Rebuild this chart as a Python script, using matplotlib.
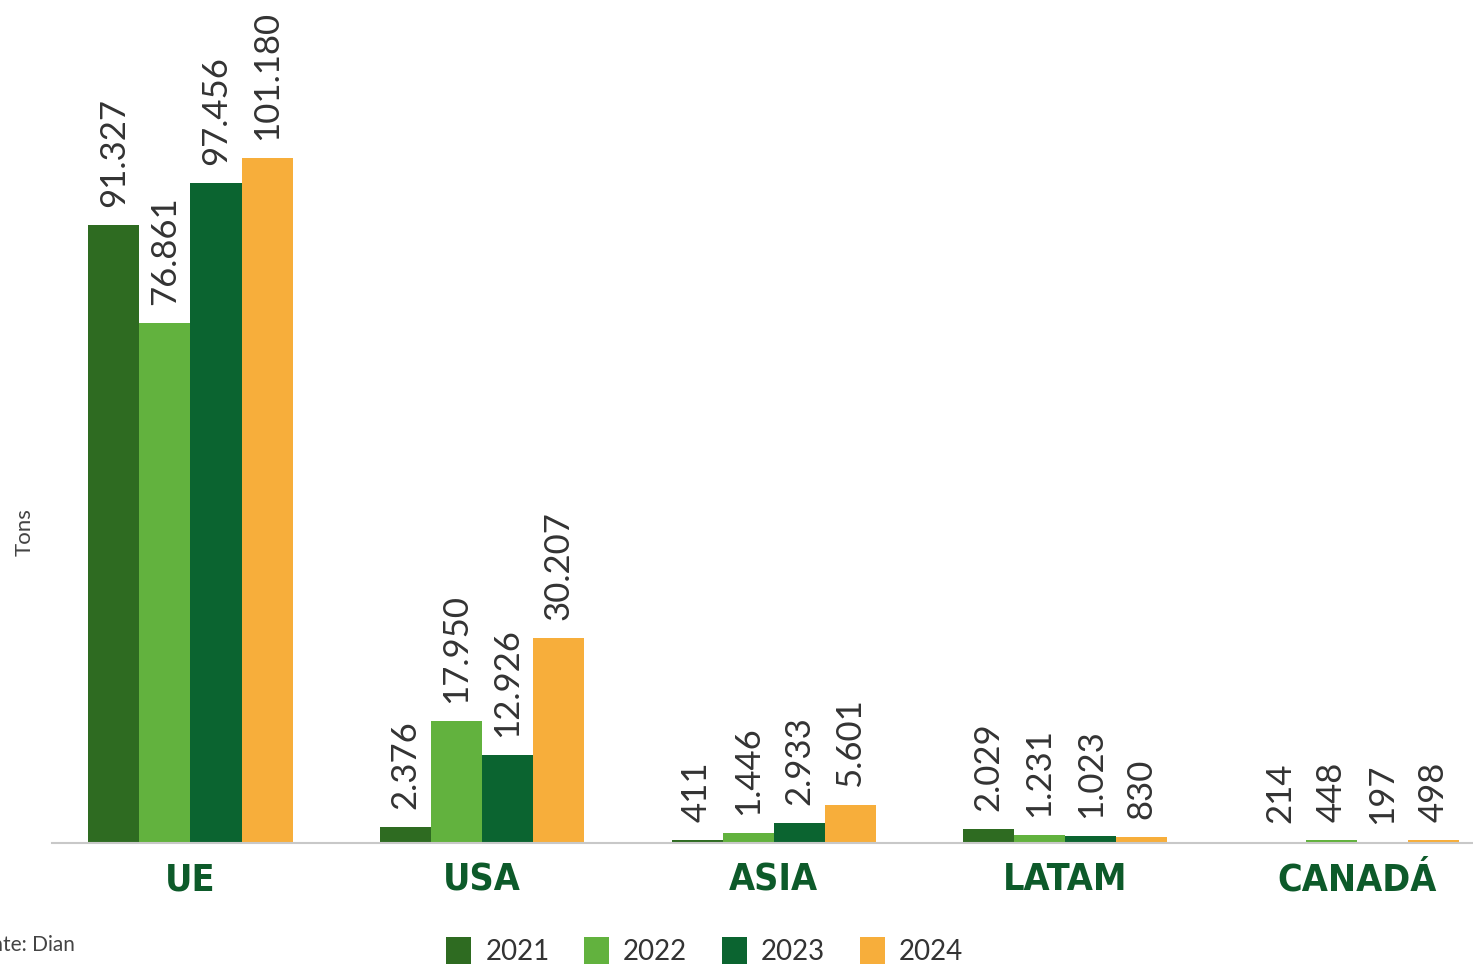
import numpy as np
import matplotlib

matplotlib.use('Agg')
import matplotlib.pyplot as plt
from matplotlib.patches import Patch

# Datos (toneladas exportadas por destino)
regions = ['UE', 'USA', 'ASIA', 'LATAM', 'CANADÁ']
years = ['2021', '2022', '2023', '2024']
v2021 = [91327, 2376, 411, 2029, 214]
v2022 = [76861, 17950, 1446, 1231, 448]
v2023 = [97456, 12926, 2933, 1023, 197]
v2024 = [101180, 30207, 5601, 830, 498]

colors = ['#2e6b21', '#62b23e', '#0b6430', '#f7ae3b']
label_green = '#0d5a2a'

plt.rcParams['font.family'] = ['Lato', 'DejaVu Sans']

W, H = 1473, 968
fig = plt.figure(figsize=(W / 100, H / 100), dpi=100)
ax = fig.add_axes([52 / W, 1 - 843 / H, 1 - 52 / W, 843 / H])

x = np.arange(len(regions))
bw = 0.175
series = [v2021, v2022, v2023, v2024]
for i, (vals, c) in enumerate(zip(series, colors)):
    pos = x + (i - 1.5) * bw
    ax.bar(pos, vals, width=bw, color=c, linewidth=0)
    for px, v in zip(pos, vals):
        txt = f"{v:,}".replace(',', '.')
        ax.annotate(txt, (px, v), xytext=(0, 13), textcoords='offset points',
                    rotation=90, ha='center', va='bottom',
                    fontsize=25, color='#333333')

ax.set_xlim(-0.475, 4.399)
ax.set_ylim(0, 124500)

for s in ['top', 'right', 'left']:
    ax.spines[s].set_visible(False)
ax.spines['bottom'].set_color('#c8c8c8')
ax.spines['bottom'].set_linewidth(1.5)
ax.set_yticks([])
ax.set_xticks(x)
ax.set_xticklabels(regions, fontsize=27, fontweight='heavy',
                   family='DejaVu Sans', fontstretch='condensed',
                   color=label_green)
ax.tick_params(axis='x', length=0, pad=14)

fig.text(25 / W, 1 - 532 / H, 'Tons', rotation=90, ha='center', va='center',
         fontsize=16, color='#444444')
fig.text(75 / W, 1 - 945 / H, 'Fuente: Dian', ha='right', va='center',
         fontsize=15, color='#444444')

handles = [Patch(facecolor=c, label=y) for c, y in zip(colors, years)]
fig.legend(handles=handles, loc='upper left',
           bbox_to_anchor=(427 / W, 1 - 918 / H), ncol=4, frameon=False,
           fontsize=20, handlelength=0.9, handleheight=1.1,
           handletextpad=0.5, columnspacing=1.25, labelcolor='#333333',
           borderpad=0.2)

fig.savefig('out.png', dpi=100)
